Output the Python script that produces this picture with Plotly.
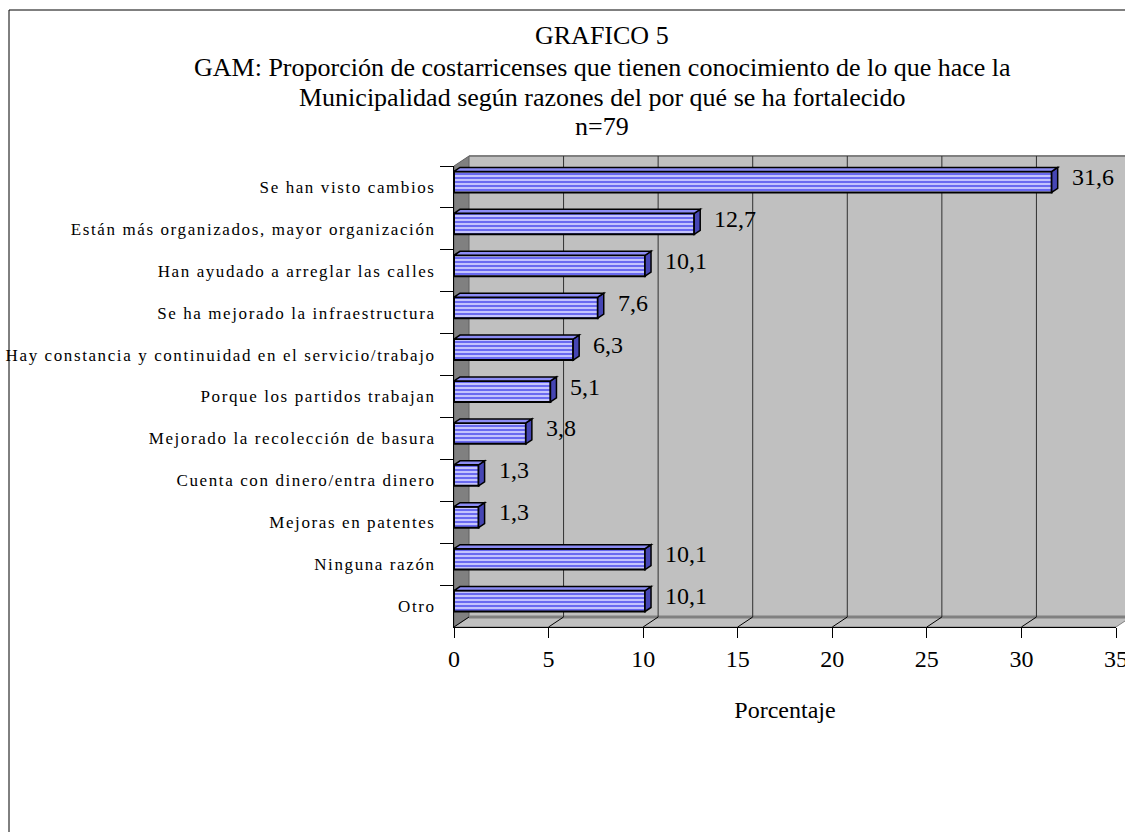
import plotly.graph_objects as go

# ---------------- data ----------------
categories = [
    "Se han visto cambios",
    "Están más organizados, mayor organización",
    "Han ayudado a arreglar las calles",
    "Se ha mejorado la infraestructura",
    "Hay constancia y continuidad en el servicio/trabajo",
    "Porque los partidos trabajan",
    "Mejorado la recolección de basura",
    "Cuenta con dinero/entra dinero",
    "Mejoras en patentes",
    "Ninguna razón",
    "Otro",
]
values = [31.6, 12.7, 10.1, 7.6, 6.3, 5.1, 3.8, 1.3, 1.3, 10.1, 10.1]
x_ticks = [0, 5, 10, 15, 20, 25, 30, 35]
title_lines = [
    "GRAFICO 5",
    "GAM: Proporción de costarricenses que tienen conocimiento de lo que hace la",
    "Municipalidad según razones del por qué se ha fortalecido",
    "n=79",
]
x_title = "Porcentaje"

# ---------------- layout constants (pixels) ----------------
W, H = 1125, 832
L, R, T, B = 454, 1116, 166, 627
PW, PH = R - L, B - T
DX, DY = 15, 10          # depth of the 3D walls
N = len(categories)
CAT_PX = PH / N
XMAX = x_ticks[-1]
UPX = XMAX / PW          # data units per pixel along x
BAR_W = 0.5
BAR_SHIFT = -0.12
CAP_DX, CAP_DY = 6, 4
FONT = "Liberation Serif"


def px(xp):
    return (xp - L) / PW


def py(yp):
    return (B - yp) / PH


fig = go.Figure()

fig.add_trace(go.Bar(
    x=values,
    y=categories,
    orientation="h",
    width=BAR_W,
    offset=BAR_SHIFT - BAR_W / 2,
    marker=dict(
        color="#6A6AF0",
        line=dict(color="black", width=2),
        pattern=dict(shape="-", bgcolor="#6A6AF0", fgcolor="#CFCFFF",
                     size=4, solidity=0.45, fillmode="replace"),
    ),
    hoverinfo="x+y",
    showlegend=False,
))

shapes = []
# back wall
shapes.append(dict(type="rect", xref="paper", yref="paper",
                   x0=px(L + DX), x1=px(R + DX + 20), y0=py(B - DY), y1=py(T - DY),
                   fillcolor="#C0C0C0", line=dict(width=0), layer="below"))
shapes.append(dict(type="line", xref="paper", yref="paper",
                   x0=px(L + DX), x1=px(R + DX + 20), y0=py(T - DY), y1=py(T - DY),
                   line=dict(color="#808080", width=2), layer="below"))
# left wall
shapes.append(dict(type="path", xref="paper", yref="paper",
                   path=f"M {px(L)},{py(B)} L {px(L)},{py(T)} L {px(L + DX)},{py(T - DY)} "
                        f"L {px(L + DX)},{py(B - DY)} Z",
                   fillcolor="#808080", line=dict(color="#606060", width=1), layer="below"))
# floor
shapes.append(dict(type="path", xref="paper", yref="paper",
                   path=f"M {px(L)},{py(B)} L {px(L + DX)},{py(B - DY)} L {px(R + DX)},{py(B - DY)} "
                        f"L {px(R)},{py(B)} Z",
                   fillcolor="#C0C0C0", line=dict(color="#808080", width=1), layer="below"))
shapes.append(dict(type="line", xref="paper", yref="paper",
                   x0=px(L + DX), x1=px(R + DX + 20), y0=py(B - DY), y1=py(B - DY),
                   line=dict(color="#808080", width=3), layer="below"))
# wall gridlines
for v in x_ticks[1:-1]:
    shapes.append(dict(type="line", xref="x", yref="paper", xsizemode="pixel", xanchor=v,
                       x0=DX, x1=DX, y0=py(B - DY), y1=py(T - DY),
                       line=dict(color="#303030", width=1), layer="below"))
# floor diagonals
for v in x_ticks:
    shapes.append(dict(type="line", xref="x", yref="paper", xsizemode="pixel", xanchor=v,
                       x0=0, x1=DX, y0=0, y1=py(B - DY),
                       line=dict(color="black", width=1), layer="below"))

# 3D caps of bars
half = BAR_W / 2 * CAT_PX
for i, v in enumerate(values):
    yc = i + BAR_SHIFT
    # right face
    shapes.append(dict(type="path", xref="x", yref="y", xsizemode="pixel", ysizemode="pixel",
                       xanchor=v, yanchor=yc,
                       path=f"M 0,{half} L {CAP_DX},{half + CAP_DY} L {CAP_DX},{-half + CAP_DY} L 0,{-half} Z",
                       fillcolor="#4646B4", line=dict(color="black", width=1.5), layer="above"))
    # top face
    shapes.append(dict(type="path", xref="x", yref="y", ysizemode="pixel",
                       yanchor=yc,
                       path=f"M 0,{half} L {CAP_DX * UPX},{half + CAP_DY} L {v + CAP_DX * UPX},{half + CAP_DY} "
                            f"L {v},{half} Z",
                       fillcolor="#8C8CF5", line=dict(color="black", width=1.5), layer="above"))

# outer frame
shapes.append(dict(type="rect", xref="paper", yref="paper",
                   x0=px(9), x1=px(W + 20), y0=py(10), y1=py(H + 20),
                   line=dict(color="black", width=1), fillcolor="rgba(0,0,0,0)", layer="below"))

annotations = []
title_y = [36, 67, 97, 127]
for line, yy in zip(title_lines, title_y):
    annotations.append(dict(text=line, xref="paper", yref="paper", x=px(602), y=py(yy),
                            xanchor="center", yanchor="middle", showarrow=False,
                            font=dict(family=FONT, size=26, color="black")))
for i, v in enumerate(values):
    annotations.append(dict(text=f"{v:.1f}".replace(".", ","), xref="x", yref="y", x=v, y=i,
                            xanchor="left", yanchor="middle", xshift=18, yshift=10, showarrow=False,
                            font=dict(family=FONT, size=24, color="black")))

fig.update_layout(
    width=W, height=H, autosize=False,
    margin=dict(l=L, r=W - R, t=T, b=H - B, pad=0, autoexpand=False),
    paper_bgcolor="white", plot_bgcolor="white",
    shapes=shapes, annotations=annotations,
    font=dict(family=FONT, color="black"),
    xaxis=dict(range=[0, XMAX], tickvals=x_ticks, ticktext=[str(t) for t in x_ticks],
               ticks="outside", ticklen=10, tickcolor="black", showline=True, linecolor="black",
               linewidth=1, showgrid=False, zeroline=False, ticklabeloverflow="allow",
               automargin=False,
               tickfont=dict(family=FONT, size=24, color="black"),
               title=dict(text=x_title, font=dict(family=FONT, size=24, color="black"), standoff=30)),
    yaxis=dict(type="category", categoryorder="array", categoryarray=categories,
               range=[N - 0.5, -0.5], tickson="boundaries", ticks="outside", ticklen=13,
               ticklabelstandoff=14, automargin=False,
               tickcolor="black", showline=True, linecolor="black", linewidth=1, showgrid=False,
               tickfont=dict(family=FONT, size=17, color="black")),
)

css = ("document.body.style.margin='0';document.body.style.overflow='hidden';"
       "var s=document.createElement('style');"
       "s.innerHTML='.ytick text{letter-spacing:1.6px;}';"
       "document.head.appendChild(s);")
fig.write_html("out.html", post_script=css, config={"displayModeBar": False})
